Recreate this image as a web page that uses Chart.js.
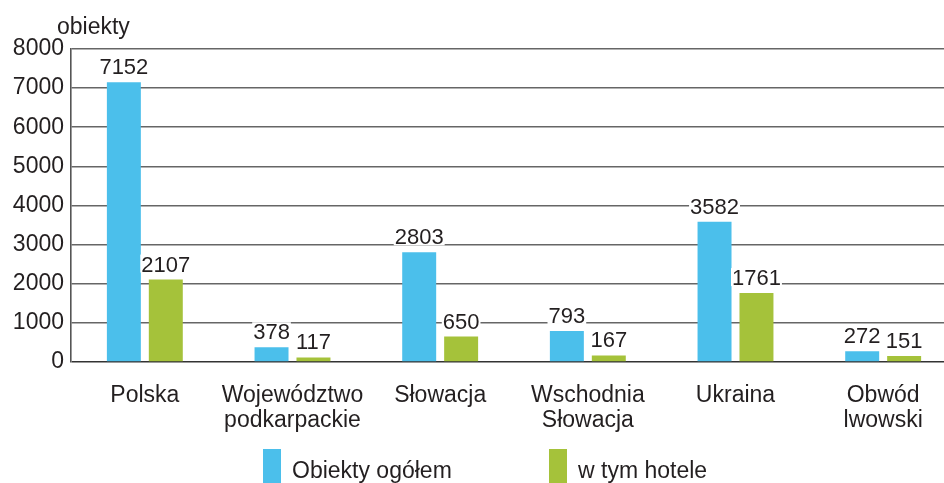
<!DOCTYPE html>
<html>
<head>
<meta charset="utf-8">
<script src="https://cdn.jsdelivr.net/npm/chart.js@4.4.0/dist/chart.umd.min.js"></script>
<style>
  html, body { margin: 0; padding: 0; background: #fff; overflow: hidden; }
  #wrap { position: relative; width: 944px; height: 483px; overflow: hidden; }
  #chart { position: absolute; left: 0; top: 0; }
  .leg { position: absolute; top: 449px; font: 23px "Liberation Sans", Arial, sans-serif; color: #231f20; }
  .leg span { position: absolute; left: 0; top: 0; width: 18px; height: 40px; }
  .leg b { position: absolute; left: 29px; top: 8px; font-weight: normal; white-space: nowrap; }
</style>
</head>
<body>
<div id="wrap">
  <canvas id="chart" width="960" height="483"></canvas>
  <div class="leg" style="left:263px"><span style="background:#4bbfeb"></span><b>Obiekty ogółem</b></div>
  <div class="leg" style="left:549px"><span style="background:#a5c23a"></span><b>w tym hotele</b></div>
</div>
<script>
const regions = [['Polska'], ['Województwo', 'podkarpackie'], ['Słowacja'], ['Wschodnia', 'Słowacja'], ['Ukraina'], ['Obwód', 'lwowski']];
const allObjects = [7152, 378, 2803, 793, 3582, 272];
const hotels = [2107, 117, 650, 167, 1761, 151];
const yTicks = [0, 1000, 2000, 3000, 4000, 5000, 6000, 7000, 8000];

const FONT = '"Liberation Sans", Arial, sans-serif';
const TEXT = '#231f20';

// values above bars, with white box so gridline breaks behind them
const valueLabels = {
  id: 'valueLabels',
  afterDatasetsDraw(chart) {
    const ctx = chart.ctx;
    ctx.save();
    ctx.font = '22px ' + FONT;
    ctx.textAlign = 'center';
    ctx.textBaseline = 'alphabetic';
    chart.data.datasets.forEach((ds, i) => {
      chart.getDatasetMeta(i).data.forEach((bar, j) => {
        const txt = String(ds.data[j]);
        const w = ctx.measureText(txt).width;
        const y = bar.y - 8;
        ctx.fillStyle = '#fff';
        ctx.fillRect(bar.x - w / 2 - 1, y - 17, w + 2, 18);
        ctx.fillStyle = TEXT;
        ctx.fillText(txt, bar.x, y);
      });
    });
    ctx.restore();
  },
  afterDraw(chart) {
    const ctx = chart.ctx;
    ctx.save();
    ctx.font = '23px ' + FONT;
    ctx.fillStyle = TEXT;
    ctx.textBaseline = 'alphabetic';
    ctx.fillText('obiekty', 57, 34);
    ctx.restore();
  }
};

new Chart(document.getElementById('chart'), {
  type: 'bar',
  data: {
    labels: regions,
    datasets: [
      { label: 'Obiekty ogółem', data: allObjects, backgroundColor: '#4bbfeb' },
      { label: 'w tym hotele', data: hotels, backgroundColor: '#a5c23a' }
    ]
  },
  options: {
    responsive: false,
    animation: false,
    categoryPercentage: 0.568,
    barPercentage: 0.81,
    layout: { padding: { top: 49, right: 3, left: 0, bottom: 0 } },
    plugins: { legend: { display: false }, tooltip: { enabled: false } },
    scales: {
      x: {
        afterFit(s) { s.height = 121; },
        grid: { display: false },
        border: { display: false },
        ticks: { color: TEXT, font: { family: FONT, size: 23, lineHeight: 1.1 }, padding: 13, maxRotation: 0, autoSkip: false }
      },
      y: {
        min: 0, max: 8000,
        afterFit(s) { s.width = 71; },
        afterBuildTicks(s) { s.ticks = yTicks.map(v => ({ value: v })); },
        grid: {
          color: ctx => ctx.tick && ctx.tick.value === 0 ? '#333' : '#666',
          lineWidth: 1.6,
          drawTicks: false
        },
        border: { color: '#555', width: 1.6 },
        ticks: { color: TEXT, font: { family: FONT, size: 23 }, padding: 7, callback: v => String(v) }
      }
    }
  },
  plugins: [valueLabels]
});
</script>
</body>
</html>
